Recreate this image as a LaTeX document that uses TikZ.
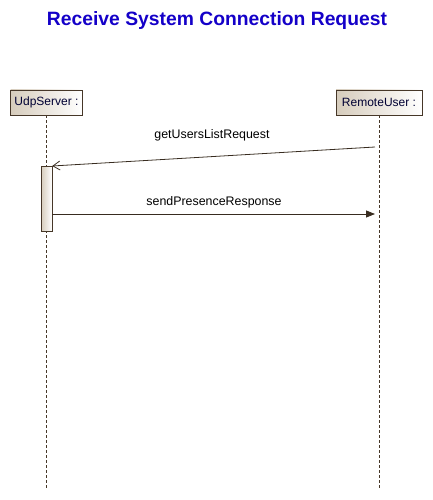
\documentclass[tikz,border=0pt]{standalone}
\usepackage{fontspec}
\setmainfont{Liberation Sans}
\usetikzlibrary{arrows.meta}
\definecolor{edge}{RGB}{70,55,40}
\definecolor{shadeL}{RGB}{214,204,188}
\definecolor{titleblue}{RGB}{20,0,200}
\tikzset{
  lifebox/.style={draw=edge, left color=shadeL, right color=white, inner sep=0pt, minimum height=25pt, font=\fontsize{12}{14}\selectfont, text=black!80!blue},
  lifeline/.style={draw=edge, dashed, dash pattern=on 3pt off 2pt, line width=0.7pt},
  actbox/.style={draw=edge, left color=shadeL, right color=white},
  msg/.style={draw=edge!80!black, line width=0.8pt},
  lbl/.style={font=\fontsize{12.4}{14}\selectfont, text=black},
}
\begin{document}
\begin{tikzpicture}[x=1pt,y=-1pt]
\useasboundingbox (0,0) rectangle (432,500);
\node[font=\bfseries\fontsize{19.3}{22}\selectfont, text=titleblue] (title) at (217,21) {Receive System Connection Request};
\node[lifebox, minimum width=72pt] (udp) at (46.5,102.5) {UdpServer :};
\node[lifebox, minimum width=86pt] (remote) at (379,102.5) {RemoteUser :};
\coordinate (udpend) at (46.5,490);
\coordinate (remend) at (379,490);
\draw[lifeline] (udp.south) -- (udpend);
\draw[lifeline] (remote.south) -- (remend);
\node[actbox, minimum width=11pt, minimum height=65pt, inner sep=0pt] (act) at (46.5,198.5) {};
\coordinate (m1s) at (375,147);
\coordinate (m1e) at (act.east |- 0,166);
\draw[msg, -{Straight Barb[length=7pt,width=9pt]}] (m1s) -- (m1e);
\node[lbl] (l1) at (212,135) {getUsersListRequest};
\coordinate (m2s) at (act.east |- 0,214);
\coordinate (m2e) at (375,214);
\draw[msg, -{Triangle[length=9pt,width=7pt]}] (m2s) -- (m2e);
\node[lbl] (l2) at (214,202) {sendPresenceResponse};
\end{tikzpicture}
\end{document}
